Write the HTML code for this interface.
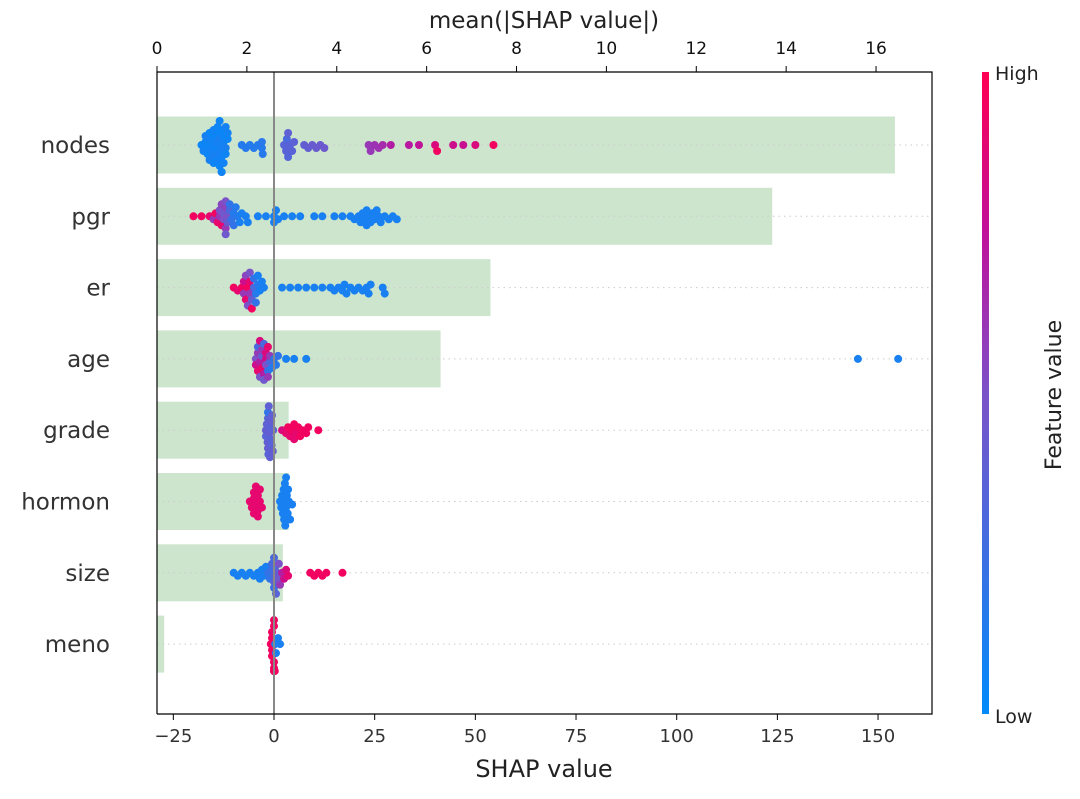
<!DOCTYPE html>
<html><head><meta charset="utf-8"><style>
body{margin:0;background:#fff;font-family:"DejaVu Sans","Liberation Sans",sans-serif}
svg text{font-family:"DejaVu Sans","Liberation Sans",sans-serif}
</style></head><body>
<svg id="chart" width="1080" height="795" viewBox="0 0 1080 795" xmlns="http://www.w3.org/2000/svg">
<defs><linearGradient id="cb" x1="0" y1="1" x2="0" y2="0">
<stop offset="0" stop-color="#008bfb"/><stop offset="0.5" stop-color="#7c52c8"/><stop offset="0.75" stop-color="#c0119a"/><stop offset="1" stop-color="#ff0052"/></linearGradient></defs>
<g id="bars"></g>
<g id="grid"></g>
<g id="dots"></g>
<g id="axes"></g>
<rect x="982" y="72" width="7" height="642" fill="url(#cb)"/>
<text x="995" y="80" font-size="19" fill="#222">High</text>
<text x="995" y="723" font-size="19" fill="#222">Low</text>
<text transform="translate(1061,395) rotate(-90)" text-anchor="middle" font-size="22" fill="#222">Feature value</text>
<text x="544" y="777" text-anchor="middle" font-size="24" fill="#222">SHAP value</text>
<text x="544" y="28" text-anchor="middle" font-size="23" fill="#222">mean(|SHAP value|)</text>
</svg>
<script>
const features=["nodes","pgr","er","age","grade","hormon","size","meno"];
const meanAbs=[16.42,13.69,7.42,6.31,2.93,2.93,2.8,0.16];
const topTicks=[0,2,4,6,8,10,12,14,16];
const bottomTicks=[-25,0,25,50,75,100,125,150];
// [shap value, feature value 0..1]
const nodesPts=[[-18,.05],[-17.5,.08],[-17,.05],[-17,.1],[-16.5,.06],[-16.5,.05],[-16,.08],[-16,.05],[-16,.1],[-15.5,.06],[-15.5,.08],[-15,.05],[-15,.1],[-15,.07],[-15,.05],[-14.5,.06],[-14.5,.08],[-14,.1],[-14,.05],[-14,.07],[-14,.06],[-13.5,.08],[-13.5,.1],[-13.5,.05],[-13.5,.06],[-13,.08],[-13,.07],[-13,.05],[-13,.1],[-13,.06],[-12.5,.08],[-12.5,.05],[-12.5,.07],[-12,.1],[-12,.06],[-12,.08],[-11.5,.05],[-11.5,.07],[-8,.15],[-7,.15],[-6,.15],[-5,.15],[-4,.15],[-3,.15],[-3,.17],[-2.8,.16],[2.5,.35],[3,.35],[3.2,.3],[3.5,.33],[3.5,.38],[4,.35],[4.5,.36],[5,.37],[7.5,.4],[8.5,.4],[9.5,.42],[10.5,.42],[11.5,.43],[12.5,.44],[23.5,.6],[24,.6],[25,.62],[26,.62],[27,.65],[29,.7],[33.5,.72],[36,.75],[40,.85],[40.5,.95],[44.5,.8],[47,.78],[50,.85],[54.5,.95]];
const pgrPts=[[-20,.95],[-18,.95],[-16,.9],[-15,.6],[-14.5,.95],[-14,.9],[-13.5,.6],[-13.5,.5],[-13,.92],[-13,.55],[-12.5,.5],[-12.5,.45],[-12,.55],[-12,.6],[-12,.5],[-12,.45],[-11.5,.5],[-11.5,.4],[-11,.3],[-11,.2],[-10.5,.2],[-10,.15],[-10,.2],[-9.5,.15],[-9,.15],[-8.5,.1],[-8,.1],[-7,.1],[-6.5,.1],[-4,.1],[-2,.1],[0,.1],[0,.1],[0.5,.1],[1,.1],[2.5,.1],[4.5,.1],[6.5,.1],[10,.1],[12,.1],[15,.1],[17,.1],[19,.1],[20,.1],[21,.1],[21.5,.1],[22,.1],[22.5,.1],[23,.1],[23,.1],[23.5,.1],[24,.1],[24.5,.1],[25,.1],[25.5,.1],[26,.1],[26.5,.1],[27.5,.1],[28.5,.1],[29.5,.1],[30.5,.1]];
const erPts=[[-10,.95],[-9,.9],[-8,.95],[-7.5,.6],[-7.5,.8],[-7,.9],[-7,.55],[-6.5,.95],[-6.5,.5],[-6,.6],[-6,.9],[-6,.5],[-5.5,.4],[-5.5,.95],[-5,.3],[-5,.2],[-4.5,.15],[-4.5,.2],[-4,.15],[-4,.1],[-3.5,.1],[-3,.1],[-2.5,.1],[2,.1],[4,.1],[6,.1],[8,.1],[10,.1],[12,.1],[14,.1],[15,.1],[16,.1],[17,.1],[17.5,.1],[18,.1],[19,.1],[20,.1],[21,.1],[22,.1],[23,.1],[23.5,.1],[24,.1],[27,.1],[27.5,.1]];
const agePts=[[-4.5,.5],[-4.5,.8],[-4,.6],[-4,.9],[-4,.3],[-3.5,.7],[-3.5,.5],[-3.5,.85],[-3,.4],[-3,.9],[-3,.6],[-2.5,.7],[-2.5,.3],[-2,.8],[-2,.5],[-1.5,.2],[-1.5,.9],[-1,.3],[-1,.6],[-0.5,.15],[0,.2],[0.5,.15],[1,.2],[-2.5,.45],[-2,.85],[-1.5,.6],[3,.1],[5,.1],[8,.1],[145,.1],[155,.1]];
const gradePts=[[-2,.4],[-2,.35],[-1.8,.38],[-1.6,.4],[-1.5,.36],[-1.5,.4],[-1.4,.35],[-1.3,.38],[-1.2,.4],[-1,.36],[-1,.38],[-0.8,.35],[-0.7,.4],[-0.6,.36],[-0.5,.38],[-0.3,.4],[-0.2,.37],[-1.5,.2],[2,.85],[3,.9],[3.5,.95],[4,.9],[4.5,.95],[5,.95],[5.5,.9],[6,.95],[6.5,.95],[7,.95],[8,.95],[8.5,.95],[11,.95],[5,.9]];
const hormonPts=[[-6,.9],[-5.5,.9],[-5,.9],[-5,.9],[-4.5,.9],[-4.5,.9],[-4,.9],[-4,.9],[-3.5,.9],[-3,.9],[-5,.9],[-4,.9],[-3.5,.9],[1.5,.1],[1.8,.1],[2,.1],[2.2,.1],[2.4,.1],[2.5,.1],[2.6,.1],[2.7,.1],[2.8,.1],[3,.1],[3,.1],[3.2,.1],[3.4,.1],[3.5,.1],[3.7,.1],[4,.1],[4.5,.1]];
const sizePts=[[-10,.1],[-9,.1],[-8,.1],[-7,.1],[-6,.1],[-5,.1],[-4,.1],[-3.5,.1],[-3,.1],[-2.5,.1],[-2,.1],[-1.5,.2],[-1,.2],[-0.5,.25],[-0.5,.3],[0,.3],[0,.35],[0,.25],[0,.3],[0.3,.3],[0.5,.35],[0.8,.4],[1,.45],[1.2,.5],[1.5,.6],[2,.7],[2.5,.8],[3,.85],[3.5,.9],[9,.95],[10,.95],[11,.95],[12,.95],[13,.95],[17,.95]];
const menoPts=[[-0.5,.95],[-0.5,.95],[0,.95],[0,.95],[-0.5,.95],[0,.95],[0,.95],[-0.5,.95],[0,.95],[0.5,.1],[1,.1],[1.5,.1],[0.3,.1],[-0.8,.95],[0.2,.95],[0,.95]];
const allPts=[nodesPts,pgrPts,erPts,agePts,gradePts,hormonPts,sizePts,menoPts];

const X0=157,X1=932,Y0=72,Y1=714;
const xs=v=>274+v*4.027;
const xt=v=>157+v*44.94;
const rowY=i=>145+i*71.3;
const NS='http://www.w3.org/2000/svg';
function mk(tag,attrs,parent){const e=document.createElementNS(NS,tag);for(const k in attrs)e.setAttribute(k,attrs[k]);parent.appendChild(e);return e;}
function lerp(a,b,t){return a+(b-a)*t}
function col(t){const s=[[0,[0,139,251]],[0.5,[124,82,200]],[0.75,[192,17,154]],[1,[255,0,82]]];for(let i=1;i<s.length;i++){if(t<=s[i][0]){const u=(t-s[i-1][0])/(s[i][0]-s[i-1][0]);const a=s[i-1][1],b=s[i][1];return `rgb(${Math.round(lerp(a[0],b[0],u))},${Math.round(lerp(a[1],b[1],u))},${Math.round(lerp(a[2],b[2],u))})`;}}return 'rgb(255,0,82)';}
const bars=document.getElementById('bars'),grid=document.getElementById('grid'),dots=document.getElementById('dots'),axes=document.getElementById('axes');
features.forEach((f,i)=>{
  const y=rowY(i);
  const b=mk('rect',{x:X0,y:y-28.5,width:xt(meanAbs[i])-X0,height:57,fill:'#cce5cc'},bars);
  
  
  const g=mk('line',{x1:X0,x2:X1,y1:y,y2:y,stroke:'#ccc','stroke-dasharray':'1.5 4','stroke-width':1},grid);
  
  
  const t=mk('text',{x:110,y:y+8,'text-anchor':'end','font-size':23,fill:'#333'},axes);
  t.textContent=f;
  
  
  const pts=allPts[i].map(p=>({x:xs(p[0]),c:p[1]})).sort((a,b)=>a.x-b.x);
  const placed=[];const r=4,d=4.2;
  pts.forEach(p=>{
    let k=0,off=0;
    while(true){
      off=(k===0)?0:((k%2)?1:-1)*Math.ceil(k/2)*3;
      if(!placed.some(q=>Math.hypot(q.x-p.x,q.o-off)<d)||k>16)break;k++;}
    placed.push({x:p.x,o:off});
    const c=mk('circle',{cx:p.x,cy:y+off,r:r,fill:col(p.c)},dots);
    
    
  });
});
let zl=mk('line',{x1:xs(0),x2:xs(0),y1:Y0,y2:Y1,stroke:'#888','stroke-width':2},axes);


let fr=mk('path',{d:`M${X0},${Y1}V${Y0}H${X1}V${Y1}H${X0}`,fill:'none',stroke:'#000','stroke-width':1.2},axes);


topTicks.forEach(v=>{const x=xt(v);
  mk('line',{x1:x,x2:x,y1:Y0,y2:Y0-6,stroke:'#000'},axes);
  const t=mk('text',{x:x,y:54,'text-anchor':'middle','font-size':17,fill:'#111'},axes);t.textContent=v;
  
  });
bottomTicks.forEach(v=>{const x=xs(v);
  mk('line',{x1:x,x2:x,y1:Y1,y2:Y1+6,stroke:'#000'},axes);
  const t=mk('text',{x:x,y:742,'text-anchor':'middle','font-size':18,fill:'#333'},axes);t.textContent=(v<0?'\u2212'+(-v):v);
  
  });
</script>
</body></html>
